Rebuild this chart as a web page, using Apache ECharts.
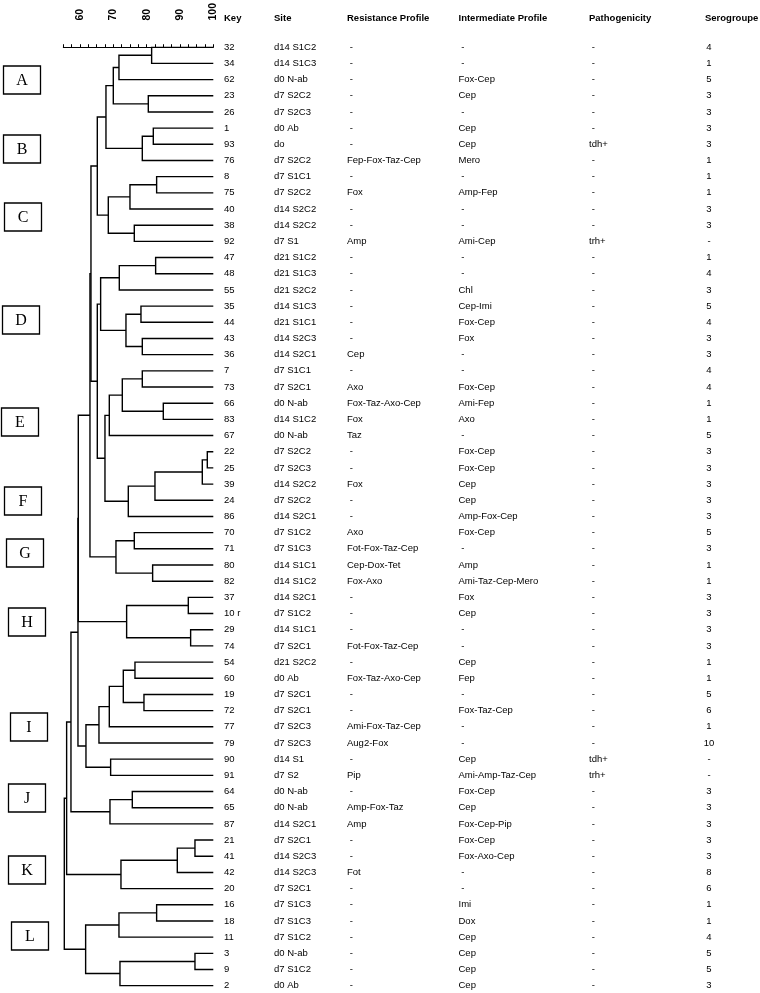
<!DOCTYPE html>
<html>
<head>
<meta charset="utf-8">
<script src="https://cdn.jsdelivr.net/npm/echarts@6/dist/echarts.min.js"></script>
<style>
html, body { margin: 0; padding: 0; background: #fff; }
#chart { width: 760px; height: 993px; }
</style>
</head>
<body>
<div id="chart"></div>
<script>
// table rows, top to bottom
const keys = ['32','34','62','23','26','1','93','76','8','75','40','38','92','47','48','55','35','44','43','36',
  '7','73','66','83','67','22','25','39','24','86','70','71','80','82','37','10 r','29','74','54','60',
  '19','72','77','79','90','91','64','65','87','21','41','42','20','16','18','11','3','9','2'];
const sites = ['d14 S1C2','d14 S1C3','d0 N-ab','d7 S2C2','d7 S2C3','d0 Ab','do','d7 S2C2','d7 S1C1','d7 S2C2',
  'd14 S2C2','d14 S2C2','d7 S1','d21 S1C2','d21 S1C3','d21 S2C2','d14 S1C3','d21 S1C1','d14 S2C3','d14 S2C1',
  'd7 S1C1','d7 S2C1','d0 N-ab','d14 S1C2','d0 N-ab','d7 S2C2','d7 S2C3','d14 S2C2','d7 S2C2','d14 S2C1',
  'd7 S1C2','d7 S1C3','d14 S1C1','d14 S1C2','d14 S2C1','d7 S1C2','d14 S1C1','d7 S2C1','d21 S2C2','d0 Ab',
  'd7 S2C1','d7 S2C1','d7 S2C3','d7 S2C3','d14 S1','d7 S2','d0 N-ab','d0 N-ab','d14 S2C1','d7 S2C1',
  'd14 S2C3','d14 S2C3','d7 S2C1','d7 S1C3','d7 S1C3','d7 S1C2','d0 N-ab','d7 S1C2','d0 Ab'];
const resistance = ['-','-','-','-','-','-','-','Fep-Fox-Taz-Cep','-','Fox',
  '-','-','Amp','-','-','-','-','-','-','Cep',
  '-','Axo','Fox-Taz-Axo-Cep','Fox','Taz','-','-','Fox','-','-',
  'Axo','Fot-Fox-Taz-Cep','Cep-Dox-Tet','Fox-Axo','-','-','-','Fot-Fox-Taz-Cep','-','Fox-Taz-Axo-Cep',
  '-','-','Ami-Fox-Taz-Cep','Aug2-Fox','-','Pip','-','Amp-Fox-Taz','Amp','-',
  '-','Fot','-','-','-','-','-','-','-'];
const intermediate = ['-','-','Fox-Cep','Cep','-','Cep','Cep','Mero','-','Amp-Fep',
  '-','-','Ami-Cep','-','-','Chl','Cep-Imi','Fox-Cep','Fox','-',
  '-','Fox-Cep','Ami-Fep','Axo','-','Fox-Cep','Fox-Cep','Cep','Cep','Amp-Fox-Cep',
  'Fox-Cep','-','Amp','Ami-Taz-Cep-Mero','Fox','Cep','-','-','Cep','Fep',
  '-','Fox-Taz-Cep','-','-','Cep','Ami-Amp-Taz-Cep','Fox-Cep','Cep','Fox-Cep-Pip','Fox-Cep',
  'Fox-Axo-Cep','-','-','Imi','Dox','Cep','Cep','Cep','Cep'];
const pathogenicity = ['-','-','-','-','-','-','tdh+','-','-','-',
  '-','-','trh+','-','-','-','-','-','-','-',
  '-','-','-','-','-','-','-','-','-','-',
  '-','-','-','-','-','-','-','-','-','-',
  '-','-','-','-','tdh+','trh+','-','-','-','-',
  '-','-','-','-','-','-','-','-','-'];
const serogroupe = ['4','1','5','3','3','3','3','1','1','1',
  '3','3','-','1','4','3','5','4','3','3',
  '4','4','1','1','5','3','3','3','3','3',
  '5','3','1','1','3','3','3','3','1','1',
  '5','6','1','10','-','-','3','3','3','3',
  '3','8','6','1','1','4','5','5','3'];

// linkage: [childA, childB, similarity %]; leaves are row indexes, merge k gets id keys.length + k
const merges = [
  [0,1,81.5],[59,2,71.7],[3,4,80.5],[60,61,70.0],[5,6,82.0],[63,7,78.7],[62,64,67.8],
  [8,9,83.0],[66,10,75.0],[11,12,76.3],[67,68,68.5],[65,69,65.2],
  [13,14,82.7],[71,15,71.8],[16,17,78.3],[18,19,78.7],[73,74,73.8],[72,75,66.2],
  [20,21,78.7],[22,23,85.0],[77,78,72.7],[79,24,68.8],
  [25,26,98.2],[81,27,96.7],[82,28,82.5],[83,29,74.5],[80,84,67.5],[76,85,65.2],[70,86,63.3],
  [30,31,76.3],[32,33,81.8],[88,89,70.8],[87,90,63.0],
  [34,35,92.5],[36,37,93.2],[92,93,74.0],[91,94,59.5],
  [38,39,76.5],[40,41,79.2],[96,97,73.0],[98,42,68.8],[99,43,65.7],[44,45,69.2],[100,101,61.8],[95,102,59.4],
  [46,47,75.7],[104,48,69.0],[103,105,57.3],
  [49,50,94.5],[107,51,89.2],[108,52,72.3],[106,109,56.0],
  [53,54,83.0],[111,55,71.7],[56,57,94.5],[113,58,72.0],[112,114,61.7],[110,115,55.3]
];
const scaleLabels = [60, 70, 80, 90, 100];
const groups = ['A','B','C','D','E','F','G','H','I','J','K','L'];

// build the dendrogram elbows
const n = keys.length;
const nodeY = [], nodeH = [];
for (let i = 0; i < n; i++) { nodeY[i] = i; nodeH[i] = 100; }
const links = [];
merges.forEach((m, k) => {
  const [a, b, h] = m;
  const id = n + k;
  nodeY[id] = (nodeY[a] + nodeY[b]) / 2;
  nodeH[id] = h;
  links.push({ coords: [[nodeH[a], nodeY[a]], [h, nodeY[a]], [h, nodeY[b]], [nodeH[b], nodeY[b]]] });
});

const font = "'Liberation Sans', Arial, sans-serif";
const gridRight = 213.3;

function column(name, data, x, align, margin) {
  return {
    type: 'category',
    data: data,
    inverse: true,
    boundaryGap: false,
    position: 'right',
    offset: x - gridRight,
    axisLine: { show: false },
    axisTick: { show: false },
    splitLine: { show: false },
    name: name,
    nameLocation: 'start',
    nameGap: 28.7,
    nameTextStyle: { align: 'left', verticalAlign: 'middle', fontWeight: 'bold', fontSize: 9.5, color: '#000', fontFamily: font },
    axisLabel: {
      interval: 0,
      margin: margin || 0,
      align: align || 'left',
      fontSize: 9.5,
      color: '#000',
      fontFamily: font,
      formatter: v => (v === '-' && align !== 'center') ? ' -' : v
    }
  };
}

// group boxes on the left (centre x, centre y)
const boxCenters = [[22,80],[22,149],[23,217],[21,320],[20,422],[23,501],[25,553],[27,622],[29,727],[27,798],[27,870],[30,936]];
const graphics = [];
groups.forEach((g, i) => {
  const [cx, cy] = boxCenters[i];
  graphics.push({
    type: 'rect', shape: { x: cx - 18.5, y: cy - 14, width: 37, height: 28 },
    style: { fill: '#fff', stroke: '#000', lineWidth: 1.3 }
  });
  graphics.push({
    type: 'text', x: cx, y: cy + 1,
    style: { text: g, fontSize: 16, fontFamily: "'Liberation Serif', serif", fill: '#000', align: 'center', verticalAlign: 'middle' }
  });
});

const chart = echarts.init(document.getElementById('chart'));
chart.setOption({
  animation: false,
  backgroundColor: '#fff',
  grid: { left: 63.3, right: 760 - gridRight, top: 42.7, bottom: 7.3 },
  xAxis: {
    type: 'value',
    min: 55,
    max: 100,
    interval: 2.5,
    position: 'top',
    offset: 18.7,
    splitLine: { show: false },
    axisLine: { lineStyle: { color: '#000', width: 1 } },
    axisTick: { length: 3, lineStyle: { color: '#000' } },
    axisLabel: {
      rotate: 90,
      margin: 8,
      fontSize: 10.5,
      fontWeight: 'bold',
      color: '#000',
      fontFamily: font,
      formatter: v => scaleLabels.includes(v) ? String(v) : ''
    }
  },
  yAxis: [
    column('Key', keys, 224),
    column('Site', sites, 274),
    column('Resistance Profile', resistance, 347),
    column('Intermediate Profile', intermediate, 458.5),
    column('Pathogenicity', pathogenicity, 589),
    column('Serogroupe', serogroupe, 705, 'center', 4),
    { type: 'value', inverse: true, min: 0, max: n - 1, show: false }
  ],
  graphic: graphics,
  series: [{
    type: 'lines',
    coordinateSystem: 'cartesian2d',
    xAxisIndex: 0,
    yAxisIndex: 6,
    polyline: true,
    silent: true,
    lineStyle: { color: '#000', width: 1.4, opacity: 1 },
    data: links
  }]
});
</script>
</body>
</html>
